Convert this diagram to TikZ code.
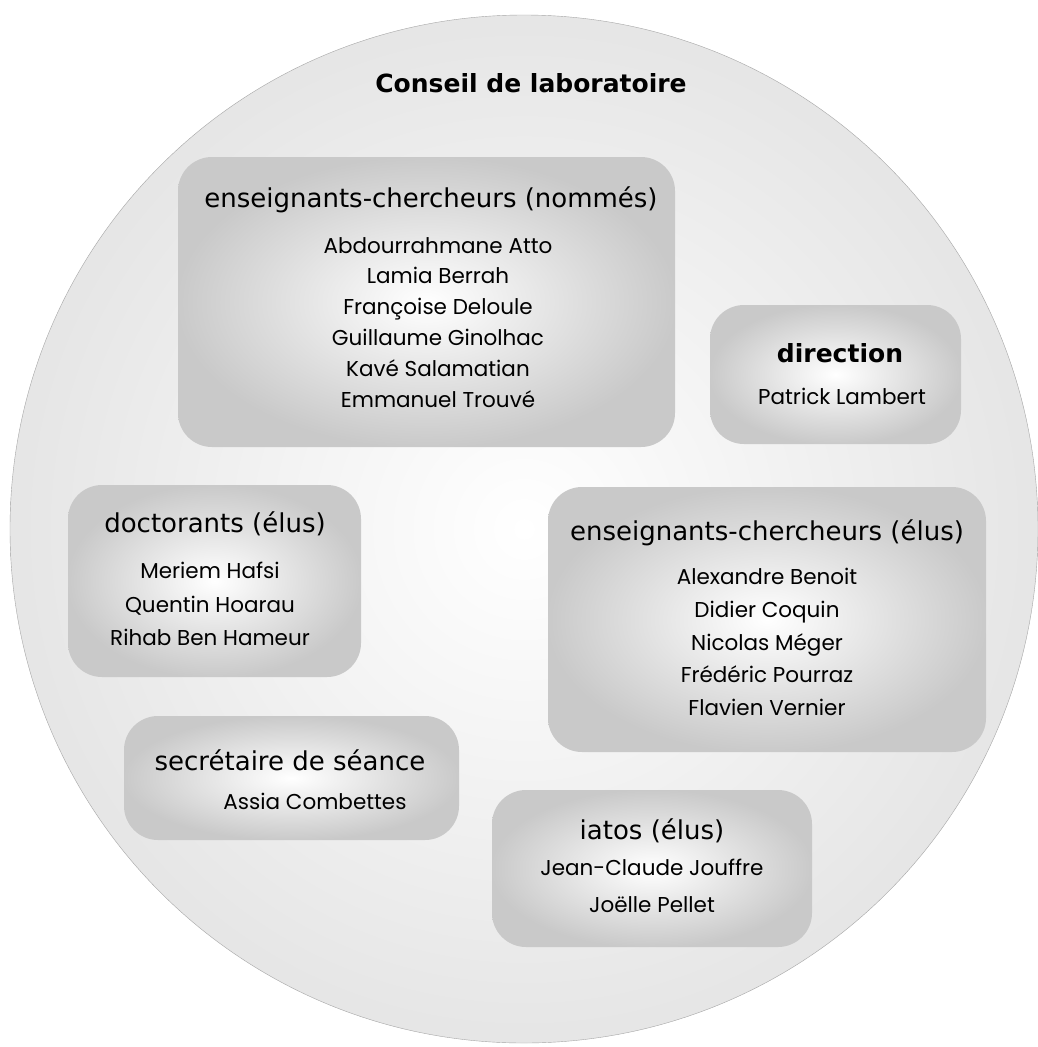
\documentclass[tikz,border=0pt]{standalone}
\usepackage{fontspec}
\setmainfont{DejaVu Sans}
\newfontfamily\nomsfont{Poppins}
\usetikzlibrary{positioning}
\tikzset{
	cadre/.style={rounded corners=34pt, inner color=white, outer color=black!21, draw=none},
	titre/.style={inner sep=0pt, font=\fontsize{26}{30}\selectfont},
	noms/.style={inner sep=0pt, anchor=north, align=center, font=\nomsfont\fontsize{21.5}{32}\selectfont}
}
\begin{document}
\begin{tikzpicture}[x=1pt,y=-1pt]
	\useasboundingbox (0,0) rectangle (1037,1047);
	\path[fill=white] (0,0) rectangle (1037,1047);
	\draw[draw=black!35, inner color=white, outer color=black!10] (524,529) circle (514);
	
	\node[font=\bfseries\fontsize{25}{30}\selectfont, inner sep=0pt] (conseil) at (531,83) {Conseil de laboratoire};
	
	% les cadres
	\node[cadre, minimum width=497pt, minimum height=290pt] (nommes) at (426.5,302) {};
	\node[cadre, minimum width=251pt, minimum height=139pt] (direction) at (835.5,374.5) {};
	\node[cadre, minimum width=293pt, minimum height=192pt] (doctorants) at (214.5,581) {};
	\node[cadre, minimum width=438pt, minimum height=265pt] (elus) at (767,619.5) {};
	\node[cadre, minimum width=335pt, minimum height=124pt] (secretaire) at (291.5,778) {};
	\node[cadre, minimum width=320pt, minimum height=157pt] (iatos) at (652,868.5) {};
	
	% titres
	\node[titre] (t-nommes) at (431,200) {enseignants-chercheurs (nommés)};
	\node[titre, font=\bfseries\fontsize{25}{30}\selectfont] (t-direction) at (840,353) {direction};
	\node[titre] (t-doctorants) at (215,524) {doctorants (élus)};
	\node[titre] (t-elus) at (767,533) {enseignants-chercheurs (élus)};
	\node[titre] (t-secretaire) at (290,760) {secrétaire de séance};
	\node[titre] (t-iatos) at (652,831) {iatos (élus)};
	
	% membres
	\node[noms, font=\nomsfont\fontsize{21.5}{30.8}\selectfont] (m-nommes) at (438,237) {Abdourrahmane Atto\\Lamia Berrah\\Françoise Deloule\\Guillaume Ginolhac\\Kavé Salamatian\\Emmanuel Trouvé};
	\node[noms] (m-direction) at (842,388) {Patrick Lambert};
	\node[noms, font=\nomsfont\fontsize{21.5}{33.5}\selectfont] (m-doctorants) at (210,562) {Meriem Hafsi\\Quentin Hoarau\\Rihab Ben Hameur};
	\node[noms, font=\nomsfont\fontsize{21.5}{32.75}\selectfont] (m-elus) at (767,568) {Alexandre Benoit\\Didier Coquin\\Nicolas Méger\\Frédéric Pourraz\\Flavien Vernier};
	\node[noms] (m-secretaire) at (315,793) {Assia Combettes};
	\node[noms, font=\nomsfont\fontsize{21.5}{37}\selectfont] (m-iatos) at (652,859) {Jean-Claude Jouffre\\Joëlle Pellet};
\end{tikzpicture}
\end{document}
